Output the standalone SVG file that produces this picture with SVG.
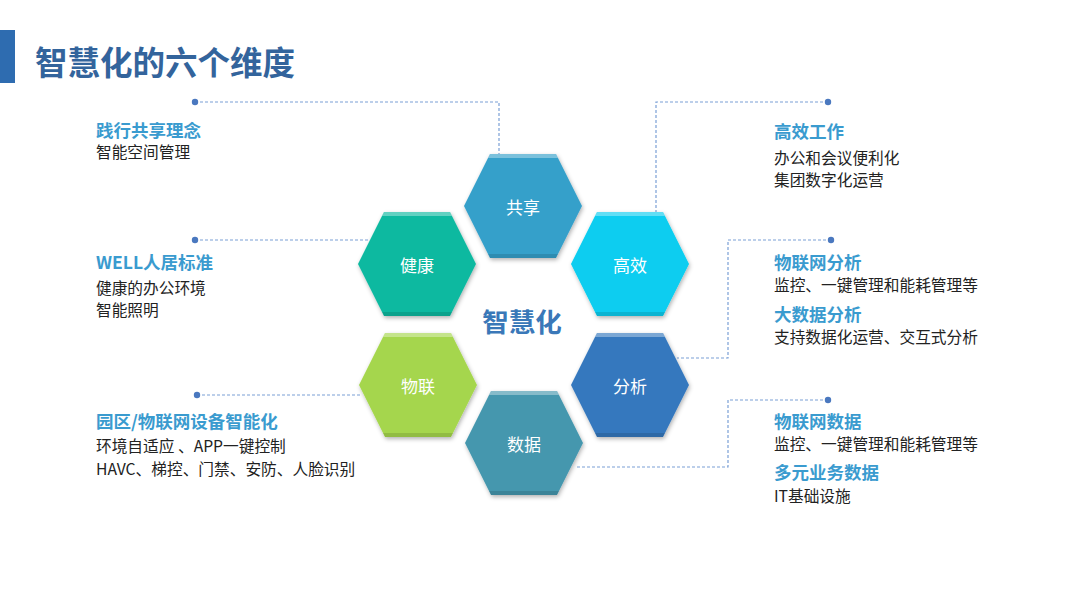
<svg xmlns="http://www.w3.org/2000/svg" xmlns:xlink="http://www.w3.org/1999/xlink" width="1080" height="608" viewBox="0 0 1080 608">
<style>
.t{font-family:"Noto Sans CJK SC","Liberation Sans",sans-serif}
.title{font-size:32.5px;font-weight:bold;fill:#33649c}
.h{font-size:17.5px;font-weight:bold;fill:#3a9bcf}
.b{font-size:15.7px;fill:#222222}
.hl{font-size:17px;fill:#ffffff;text-anchor:middle;dominant-baseline:central}
.c{fill:none;stroke:#7a9fd6;stroke-width:1.2;stroke-dasharray:3 2}
.dot{fill:#4a78bf}
.hi{fill:#ffffff;opacity:0.35}
.lo{fill:#000000;opacity:0.12}
</style>
<defs>
<filter id="sh" x="-20%" y="-20%" width="140%" height="140%">
<feDropShadow dx="1" dy="2" stdDeviation="2" flood-color="#000" flood-opacity="0.3"/>
</filter>
<polygon id="hex" points="-59,0 -33,-52 33,-52 59,0 33,52 -33,52"/>
<polygon id="top" points="-33,-52 33,-52 35,-48 -35,-48"/>
<polygon id="bot" points="-35,48 35,48 33,52 -33,52"/>
</defs>
<rect width="1080" height="608" fill="#ffffff"/>
<rect x="0" y="30" width="15" height="53" fill="#2e6cb0"/>
<text class="t title" x="35" y="75">智慧化的六个维度</text>

<g id="connectors">
<polyline class="c" points="195,102 499,102 499,154"/>
<polyline class="c" points="195,240 370,240"/>
<polyline class="c" points="197,395 361,395"/>
<polyline class="c" points="828,102 656,102 656,212"/>
<polyline class="c" points="831,240 728,240 728,358 677,358"/>
<polyline class="c" points="828,400 728,400 728,467 575,467"/>
<circle class="dot" cx="195" cy="102" r="3.2"/>
<circle class="dot" cx="195" cy="240" r="3.2"/>
<circle class="dot" cx="197" cy="395" r="3.2"/>
<circle class="dot" cx="828" cy="102" r="3.2"/>
<circle class="dot" cx="831" cy="240" r="3.2"/>
<circle class="dot" cx="828" cy="400" r="3.2"/>
</g>

<g id="n-share" transform="translate(523,206)">
<use xlink:href="#hex" fill="#35a0ca" filter="url(#sh)"/>
<use xlink:href="#top" class="hi"/><use xlink:href="#bot" class="lo"/>
<text class="t hl" x="0" y="0">共享</text>
</g>
<g id="n-health" transform="translate(417,264)">
<use xlink:href="#hex" fill="#0bb9a0" filter="url(#sh)"/>
<use xlink:href="#top" class="hi"/><use xlink:href="#bot" class="lo"/>
<text class="t hl" x="0" y="0">健康</text>
</g>
<g id="n-eff" transform="translate(630,264)">
<use xlink:href="#hex" fill="#08cdf0" filter="url(#sh)"/>
<use xlink:href="#top" class="hi"/><use xlink:href="#bot" class="lo"/>
<text class="t hl" x="0" y="0">高效</text>
</g>
<g id="n-iot" transform="translate(418,385)">
<use xlink:href="#hex" fill="#a5d64e" filter="url(#sh)"/>
<use xlink:href="#top" class="hi"/><use xlink:href="#bot" class="lo"/>
<text class="t hl" x="0" y="0">物联</text>
</g>
<g id="n-data" transform="translate(524,443)">
<use xlink:href="#hex" fill="#4497ae" filter="url(#sh)"/>
<use xlink:href="#top" class="hi"/><use xlink:href="#bot" class="lo"/>
<text class="t hl" x="0" y="0">数据</text>
</g>
<g id="n-ana" transform="translate(630,385)">
<use xlink:href="#hex" fill="#3578be" filter="url(#sh)"/>
<use xlink:href="#top" class="hi"/><use xlink:href="#bot" class="lo"/>
<text class="t hl" x="0" y="0">分析</text>
</g>

<g id="center">
<text class="t" x="522" y="332" text-anchor="middle" font-size="26.5" font-weight="bold" fill="#3a78b8">智慧化</text>
</g>

<g id="left-share">
<text class="t h" x="96" y="137">践行共享理念</text>
<text class="t b" x="96" y="158">智能空间管理</text>
</g>
<g id="left-health">
<text class="t h" x="96" y="269">WELL人居标准</text>
<text class="t b" x="96" y="294">健康的办公环境</text>
<text class="t b" x="96" y="316">智能照明</text>
</g>
<g id="left-iot">
<text class="t h" x="96" y="428">园区/物联网设备智能化</text>
<text class="t b" x="96" y="452">环境自适应 、APP一键控制</text>
<text class="t b" x="96" y="475">HAVC、梯控、门禁、安防、人脸识别</text>
</g>
<g id="right-eff">
<text class="t h" x="774" y="138">高效工作</text>
<text class="t b" x="774" y="164">办公和会议便利化</text>
<text class="t b" x="774" y="186">集团数字化运营</text>
</g>
<g id="right-ana">
<text class="t h" x="774" y="269">物联网分析</text>
<text class="t b" x="774" y="291">监控、一键管理和能耗管理等</text>
<text class="t h" x="774" y="321">大数据分析</text>
<text class="t b" x="774" y="343">支持数据化运营、交互式分析</text>
</g>
<g id="right-data">
<text class="t h" x="774" y="428">物联网数据</text>
<text class="t b" x="774" y="450">监控、一键管理和能耗管理等</text>
<text class="t h" x="774" y="479">多元业务数据</text>
<text class="t b" x="774" y="502">IT基础设施</text>
</g>
</svg>
